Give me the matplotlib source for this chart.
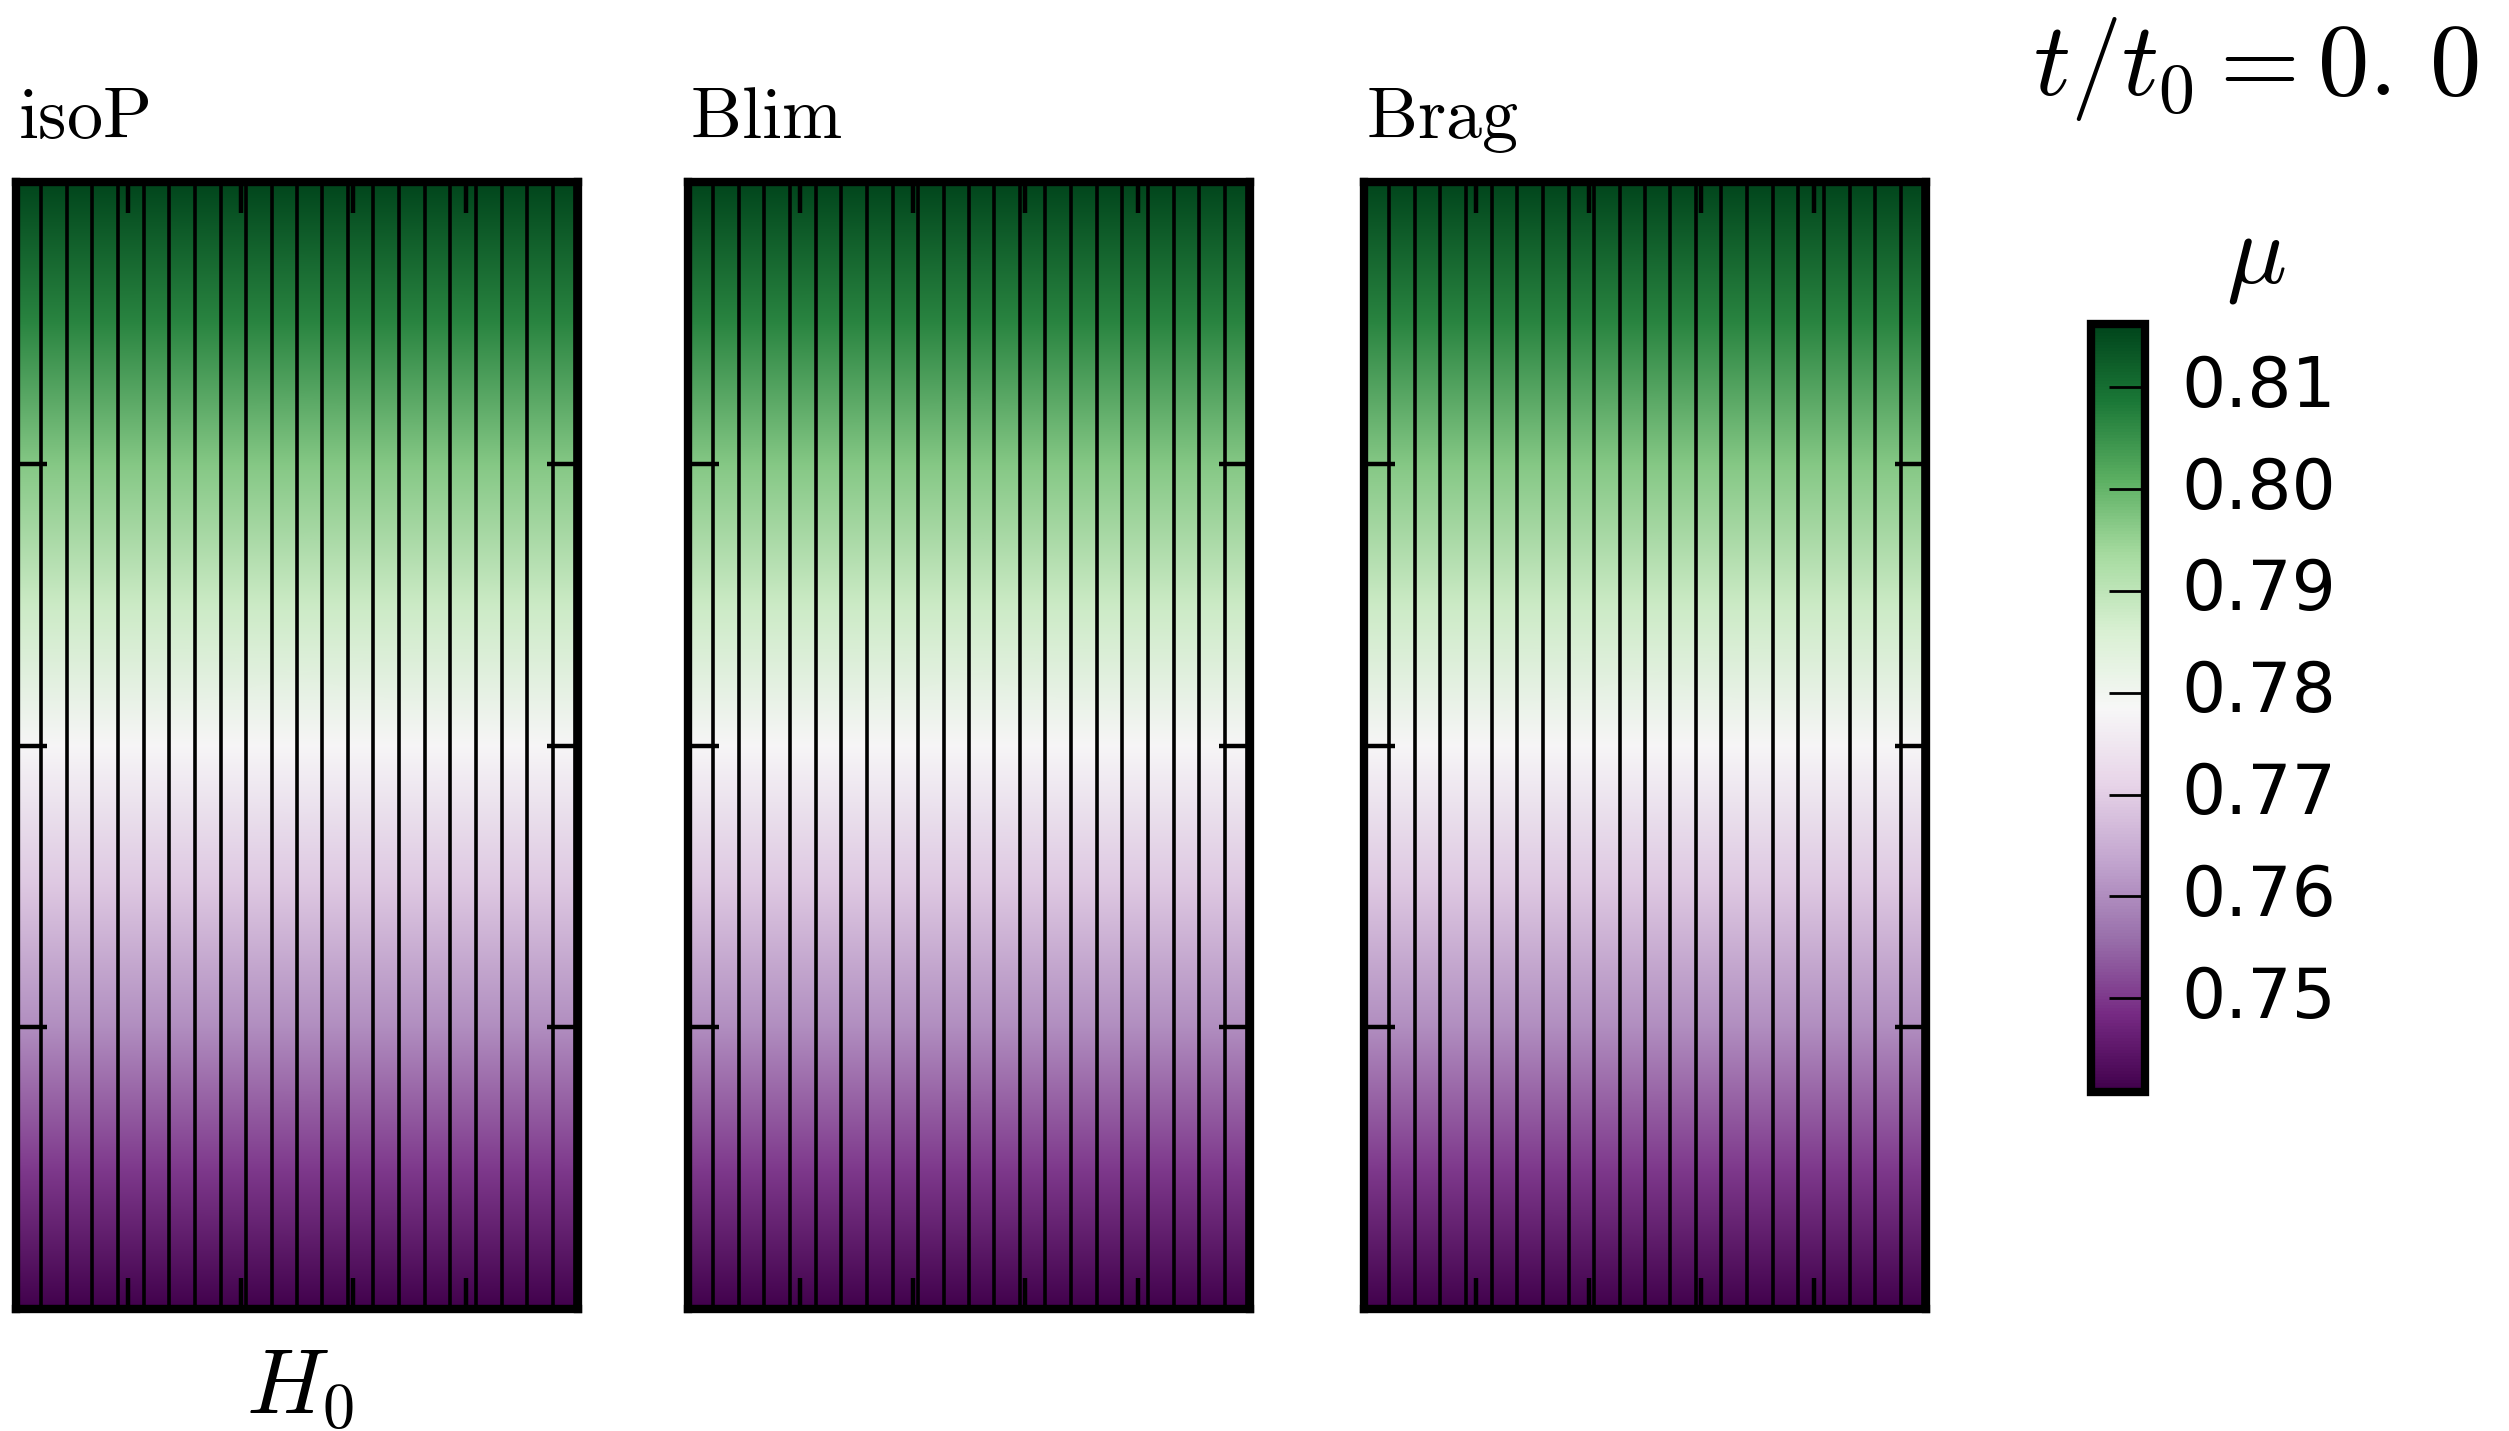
import numpy as np
import matplotlib
matplotlib.use("Agg")
import matplotlib.pyplot as plt

plt.rcParams['mathtext.fontset'] = 'cm'

W, H = 2509, 1431
DPI = 200

# data (t/t0 = 0.0, same state in the three runs)
panel_names = ['isoP', 'Blim', 'Brag']
heights = [0.0, 0.25, 0.5, 0.75, 1.0, 1.25, 1.5, 1.75, 2.0]
mu_profile = [0.741, 0.750, 0.760, 0.769, 0.778, 0.788, 0.797, 0.807, 0.816]
field_lines_x = [0.045, 0.091, 0.136, 0.182, 0.227, 0.273, 0.318, 0.364,
                 0.409, 0.455, 0.500, 0.545, 0.591, 0.636, 0.682, 0.727,
                 0.773, 0.818, 0.864, 0.909, 0.955, 0.994]
cbar_ticks = [0.75, 0.76, 0.77, 0.78, 0.79, 0.80, 0.81]
mu_min, mu_max = 0.7408, 0.8162
time_label = r'$t/t_0 = 0.\,0$'


def px(x, y):
    # pixel (from top-left) -> figure fraction
    return x / W, 1 - y / H


fig = plt.figure(figsize=(W / DPI, H / DPI), dpi=DPI)

panel_left = [16, 688, 1364]
panel_w, panel_h = 562, 1127
panel_bottom = 1309

C = np.array([mu_profile, mu_profile]).T
Y = np.array([heights, heights]).T
X = np.array([[0.0, 1.0]] * len(heights))

mesh = None
for name, left in zip(panel_names, panel_left):
    ax = fig.add_axes([left / W, 1 - panel_bottom / H, panel_w / W, panel_h / H])
    mesh = ax.pcolormesh(X, Y, C, shading='gouraud', cmap='PRGn',
                         vmin=mu_min, vmax=mu_max)
    ax.vlines(field_lines_x, 0, 2, colors='black', linewidth=1.3)
    ax.set_xlim(0, 1)
    ax.set_ylim(0, 2)
    ax.set_xticks([0.2, 0.4, 0.6, 0.8])
    ax.set_yticks([0.5, 1.0, 1.5])
    ax.tick_params(direction='in', length=11, width=1.6, top=True, right=True,
                   labelbottom=False, labelleft=False)
    for sp in ax.spines.values():
        sp.set_linewidth(3)
    ax.text(0.004, 1 + 44 / panel_h, r'$\mathrm{%s}$' % name, transform=ax.transAxes,
            fontsize=26, ha='left', va='baseline')

# colorbar
cx0, cx1, cy0, cy1 = 2091, 2145, 324, 1092
cax = fig.add_axes([cx0 / W, 1 - cy1 / H, (cx1 - cx0) / W, (cy1 - cy0) / H])
cb = fig.colorbar(mesh, cax=cax, ticks=cbar_ticks)
cb.outline.set_linewidth(3)
cb.ax.set_yticklabels(['%.2f' % t for t in cbar_ticks])
cb.ax.tick_params(direction='in', length=13, width=1.0, labelsize=25, pad=13)
for lab in cb.ax.get_yticklabels():
    lab.set_va('center')

fig.text(*px(2256, 282), r'$\mu$', fontsize=36, ha='center', va='baseline')
fig.text(*px(2033, 95), time_label, fontsize=37, ha='left', va='baseline')
fig.text(*px(300, 1413), r'$H_0$', fontsize=33, ha='center', va='baseline')

fig.savefig('out.png', dpi=DPI)
